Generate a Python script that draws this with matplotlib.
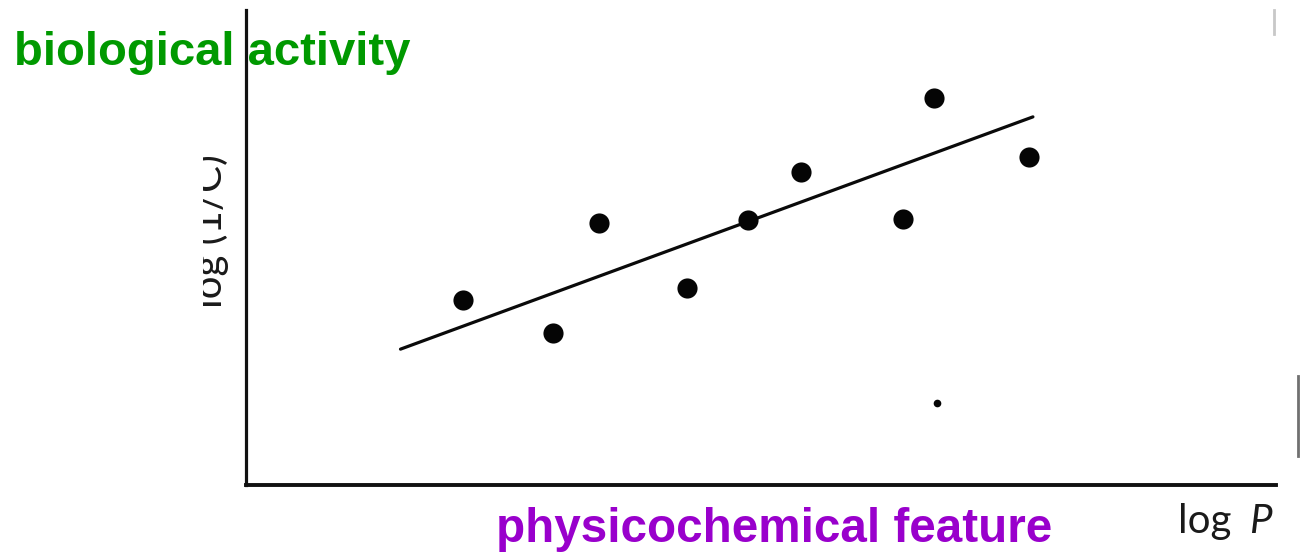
import matplotlib
matplotlib.use("Agg")
import matplotlib.pyplot as plt
from matplotlib.transforms import Bbox, TransformedBbox
from matplotlib.lines import Line2D

# ---- data (arbitrary units) ----
log_p = [2.11, 2.98, 3.43, 4.28, 4.87, 5.39, 6.38, 6.68, 7.60]
log_inv_c = [3.89, 3.21, 5.51, 4.14, 5.58, 6.58, 5.60, 8.14, 6.90]
outlier_x = [6.71]
outlier_y = [1.73]
fit_x = [1.50, 7.64]
fit_y = [2.86, 7.75]

title_y = "biological activity"
title_x = "physicochemical feature"
ylab = "log (1/C)"

W, H = 1301, 554
fig = plt.figure(figsize=(W / 100, H / 100), dpi=100)
fig.patch.set_facecolor("white")

def fx(px):
    return px / W

def fy(py):
    return 1 - py / H

ax = fig.add_axes([fx(246), fy(485), (1276 - 246) / W, (485 - 10) / H])
ax.set_xlim(0, 10)
ax.set_ylim(0, 10)
for s in ["top", "right"]:
    ax.spines[s].set_visible(False)
ax.spines["left"].set_linewidth(2.3)
ax.spines["bottom"].set_linewidth(2.8)
ax.spines["left"].set_color("#111111")
ax.spines["bottom"].set_color("#111111")
ax.set_xticks([])
ax.set_yticks([])

ax.plot(fit_x, fit_y, color="#0a0a0a", lw=2.3, solid_capstyle="round", zorder=2)
ax.plot(log_p, log_inv_c, "o", color="#050505", ms=14.5, mec="none", zorder=3)
ax.plot(outlier_x, outlier_y, "o", color="#050505", ms=5.5, mec="none", zorder=3)

# y-axis label (partially clipped on its left side, as in the scan)
t = fig.text(fx(222), fy(308), ylab, rotation=90, rotation_mode="anchor",
             ha="left", va="baseline", fontsize=29, family="Lato",
             color="#1a1a1a")
t.set_clip_box(TransformedBbox(Bbox.from_extents(fx(203), 0, 1, 1), fig.transFigure))
t.set_clip_on(True)

# x-axis label
fig.text(fx(1178), fy(533), "log ", ha="left", va="baseline", fontsize=29,
         family="Lato", color="#1a1a1a")
fig.text(fx(1249), fy(533), "P", ha="left", va="baseline", fontsize=29,
         family="Lato", style="italic", color="#1a1a1a")

# coloured annotations
fig.text(fx(14), fy(65), title_y, ha="left", va="baseline", fontsize=34,
         family="Liberation Sans", weight="bold", color="#009900", zorder=5)
fig.text(fx(496), fy(542), title_x, ha="left", va="baseline", fontsize=34.3,
         family="Liberation Sans", weight="bold", color="#9900CC", zorder=5)

# faint scan marks
fig.add_artist(Line2D([fx(1274), fx(1274)], [fy(10), fy(34)], color="#c8c8c8", lw=2))
fig.add_artist(Line2D([fx(1298), fx(1298)], [fy(376), fy(456)], color="#707070", lw=2))

fig.savefig("out.png", dpi=100, facecolor="white")
